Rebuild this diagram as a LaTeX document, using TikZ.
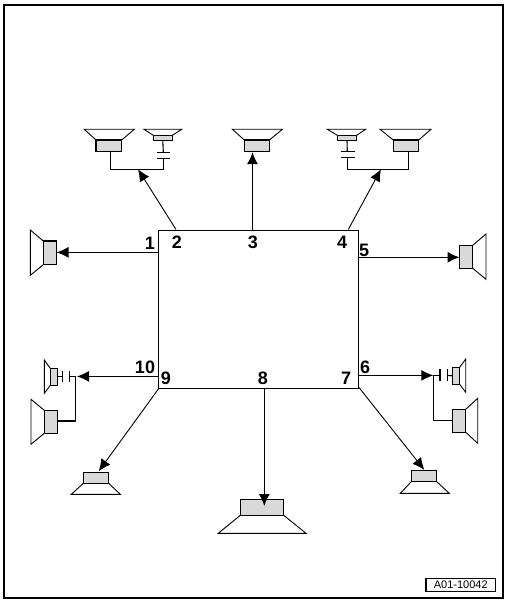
\documentclass[tikz,border=0pt]{standalone}
\usepackage{fontspec}
\setmainfont{Liberation Sans}
\usetikzlibrary{arrows.meta}
\tikzset{
  ln/.style={line width=1.1pt,black},
  thinln/.style={line width=0.9pt,black},
  arr/.style={line width=1.1pt,black,-{Latex[length=12pt,width=11pt]},shorten >=-0.5pt},
  diag/.style={line width=0.9pt,black,-{Latex[length=12pt,width=11pt]},shorten >=-0.5pt},
  spkbox/.style={draw=black,line width=1.1pt,fill=black!15,inner sep=0pt,outer sep=0pt},
  mainbox/.style={draw=black,line width=1.1pt,inner sep=0pt,outer sep=0pt},
  num/.style={font=\fontsize{18}{18}\selectfont\bfseries,inner sep=0pt},
  frame/.style={draw=black,line width=2.8pt},
  tag/.style={draw=black,line width=1.1pt,inner sep=0pt,font=\fontsize{11}{12}\selectfont}
}
% name, x0, y0, x1, y1 in pixels
\newcommand{\spkrect}[6][spkbox]{%
  \pgfmathsetmacro{\cxv}{(#3+#5)/2}\pgfmathsetmacro{\cyv}{(#4+#6)/2}%
  \pgfmathsetmacro{\wv}{#5-#3}\pgfmathsetmacro{\hv}{#6-#4}%
  \node[#1,minimum width=\wv pt,minimum height=\hv pt] (#2) at (\cxv,\cyv) {};}
\begin{document}
\begin{tikzpicture}[x=1pt,y=-1pt]
\useasboundingbox (0,0) rectangle (508,604);
\draw[frame] (4,5) rectangle (503,598);
\spkrect[mainbox]{main}{158.4}{230.4}{358.2}{388.4}
\spkrect[tag]{tagbox}{426}{578.3}{495.7}{591.7}
\node[font=\fontsize{11}{12}\selectfont,inner sep=0pt] (tagtext) at (460.8,585) {A01-10042};
% numbers
\node[num] (n1) at (150,243.5) {1};
\node[num] (n2) at (177,242) {2};
\node[num] (n3) at (253,242) {3};
\node[num] (n4) at (342,242) {4};
\node[num] (n5) at (364,250) {5};
\node[num] (n6) at (365,367) {6};
\node[num] (n7) at (346,378.5) {7};
\node[num] (n8) at (263,378.5) {8};
\node[num] (n9) at (166,378.5) {9};
\node[num] (n10) at (145,367) {10};
% top left pair
\draw[thinln] (96,140) -- (84.3,129.3) -- (134.3,129.3) -- (121.7,140);
\draw[thinln] (153.3,135.3) -- (144,129.3) -- (181.7,129.3) -- (172.3,135.3);
\spkrect{s2a}{96}{140}{121.7}{151.5}
\spkrect{s2b}{153.3}{135.3}{172.3}{140.7}
\coordinate (w2a) at (110.3,169.3);
\coordinate (w2b) at (163.3,169.3);
\coordinate (p2a) at (163.3,152.3);
\coordinate (p2b) at (163.3,158.3);
\draw[ln] (110.3,151.5) -- (w2a) -- (w2b) -- (p2b);
\draw[ln] (s2b.south) -- (p2a);
\draw[ln] (156.7,152.3) -- (170,152.3) (156.7,158.3) -- (170,158.3);
% top centre
\draw[thinln] (244.3,140) -- (232.4,129.3) -- (282.4,129.3) -- (269.4,140);
\spkrect{s3}{244.3}{140}{269.4}{151.5}
% top right pair
\draw[thinln] (337.3,135.3) -- (327.3,129.3) -- (365.7,129.3) -- (356.7,135.3);
\draw[thinln] (393.3,140) -- (380,129.3) -- (431,129.3) -- (418.7,140);
\spkrect{s4a}{337.3}{135.3}{356.7}{140.7}
\spkrect{s4b}{393.3}{140}{418.7}{151.5}
\coordinate (w4a) at (347.3,169.3);
\coordinate (w4b) at (408.3,169.3);
\coordinate (p4a) at (347.3,151.7);
\coordinate (p4b) at (347.3,157.7);
\draw[ln] (s4a.south) -- (p4a);
\draw[ln] (p4b) -- (w4a) -- (w4b) -- (408.3,151.5);
\draw[ln] (341.3,151.7) -- (355,151.7) (341.3,157.7) -- (355,157.7);
% left
\draw[thinln] (43.3,241) -- (30.3,230) -- (30.3,275.3) -- (43.3,264.7);
\spkrect{s1}{43.3}{241}{56.3}{264.7}
% right
\draw[thinln] (472.7,245.3) -- (486,234) -- (486,279.3) -- (472.7,268.3);
\spkrect{s5}{459.3}{245.3}{472.7}{268.3}
% lower left pair
\draw[thinln] (50.3,368.3) -- (44.3,360) -- (44.3,393.3) -- (50.3,385.3);
\draw[thinln] (44.3,410.3) -- (31,399.3) -- (31,444.3) -- (44.3,433.3);
\spkrect{s10a}{50.3}{368.3}{57.3}{385.3}
\spkrect{s10b}{44.3}{410.3}{57.3}{433.3}
\coordinate (w10) at (75.3,376.5);
\coordinate (w10b) at (75.3,421);
\draw[ln] (s10a.east) -- (62.7,376.8);
\draw[ln] (62.7,370.7) -- (62.7,382.3) (69.3,370.7) -- (69.3,382.3);
\draw[ln] (69.3,376.5) -- (w10) -- (w10b) -- (57.3,421);
% lower right pair
\draw[thinln] (459.7,367.3) -- (465.7,359) -- (465.7,392.3) -- (459.7,384.3);
\draw[thinln] (465.7,409.3) -- (477.7,398.3) -- (477.7,443.3) -- (465.7,432.3);
\spkrect{s6a}{452.3}{367.3}{459.7}{384.3}
\spkrect{s6b}{452.3}{409.3}{465.7}{432.3}
\coordinate (w6) at (433.3,375.5);
\coordinate (w6b) at (433.3,420.5);
\draw[ln] (s6a.west) -- (447.3,375.5);
\draw[ln] (440,369.3) -- (440,381) (447.3,369.3) -- (447.3,381);
\draw[ln] (440,375.5) -- (w6) -- (w6b) -- (452.3,420.5);
% bottom left
\draw[thinln] (83.3,483.3) -- (71.3,494.3) -- (120.3,494.3) -- (108.7,483.3);
\spkrect{s9}{83.3}{472.3}{108.7}{483.3}
% bottom right
\draw[thinln] (411.3,481.7) -- (400.3,493.3) -- (449.3,493.3) -- (436.7,481.7);
\spkrect{s7}{411.3}{470.3}{436.7}{481.7}
% bottom centre
\draw[thinln] (240.3,515.3) -- (218.3,533.3) -- (306,533.3) -- (283.7,515.3);
\spkrect{s8}{240.3}{499.3}{283.7}{515.3}
% arrows
\coordinate (a1s) at (158.4,252.4);
\coordinate (a1e) at (57,252.4);
\coordinate (a2s) at (176,229.5);
\coordinate (a2e) at (138.3,169.7);
\coordinate (a3s) at (252.5,230.4);
\coordinate (a3e) at (252.5,152.7);
\coordinate (a4s) at (348.3,229.5);
\coordinate (a4e) at (380.7,169.7);
\coordinate (a5s) at (358.2,257.3);
\coordinate (a5e) at (459,257.3);
\coordinate (a6s) at (358.2,375.4);
\coordinate (a6e) at (432.8,375.4);
\coordinate (a7s) at (359,387.5);
\coordinate (a7e) at (424,469.5);
\coordinate (a8s) at (264.3,388.4);
\coordinate (a8e) at (264.3,505.5);
\coordinate (a9s) at (158.4,389);
\coordinate (a9e) at (99,470.8);
\coordinate (a10s) at (158.4,376.4);
\coordinate (a10e) at (77.5,376.4);
\draw[arr] (a1s) -- (a1e);
\draw[diag] (a2s) -- (a2e);
\draw[arr] (a3s) -- (a3e);
\draw[diag] (a4s) -- (a4e);
\draw[arr] (a5s) -- (a5e);
\draw[arr] (a6s) -- (a6e);
\draw[diag] (a7s) -- (a7e);
\draw[arr] (a8s) -- (a8e);
\draw[diag] (a9s) -- (a9e);
\draw[arr] (a10s) -- (a10e);
\end{tikzpicture}
\end{document}
